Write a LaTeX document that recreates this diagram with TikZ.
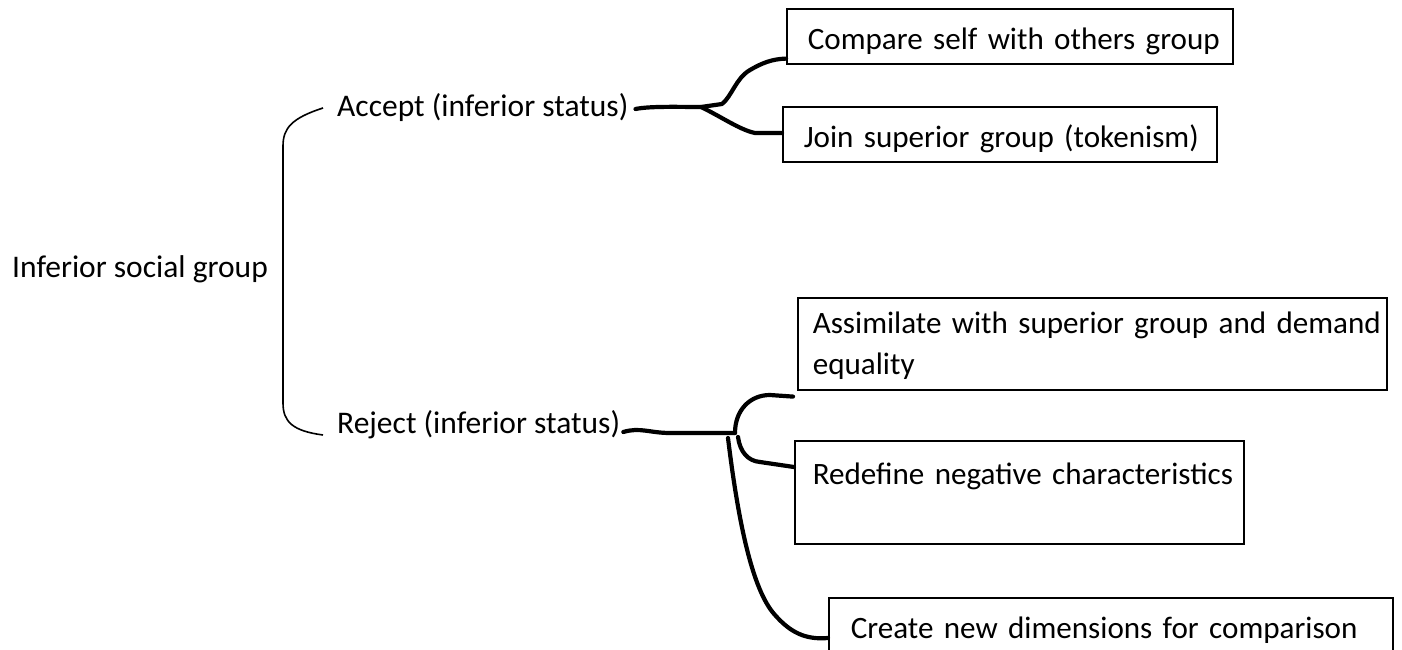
\documentclass[tikz,border=0pt]{standalone}
\usepackage{fontspec}
\setmainfont{Carlito}
\begin{document}
\begin{tikzpicture}[x=1pt,y=-1pt,
  txt/.style={font=\fontsize{31.5}{41}\selectfont},
  boxtxt/.style={font=\fontsize{31.1}{41}\selectfont},
  lbl/.style={txt, inner sep=0pt, anchor=base west},
  box/.style={boxtxt, draw, line width=1.6pt, anchor=north west, align=left, inner ysep=0pt},
  onebox/.style={box, text height=41pt, text depth=14pt},
  brace/.style={line width=1.6pt},
  link/.style={line width=4.2pt, line cap=round, line join=round}]
\useasboundingbox (0,0) rectangle (1402,650);
\clip (0,0) rectangle (1402,650);

% labels of the tree
\node[lbl] (root) at (12,277) {Inferior social group};
\node[lbl] (acc) at (337,117) {Accept (inferior status)};
\node[lbl] (rej) at (337,433) {Reject (inferior status)};

% outcome boxes (lines kept unbroken)
\node[onebox, text width=404pt, inner xsep=21pt] (b1) at (786,8) {\mbox{Compare self with others group}};
\node[onebox, text width=392pt, inner xsep=21pt] (b2) at (782,106) {\mbox{Join superior group (tokenism)}};
\node[box, text width=559pt, inner xsep=15pt, text height=36pt, text depth=56pt] (b3) at (797,297)
  {\mbox{Assimilate with superior group and demand}\\\mbox{equality}};
\node[box, text width=413pt, inner xsep=18pt, text height=44pt, text depth=59pt] (b4) at (794,440)
  {\mbox{Redefine negative characteristics}};
\node[onebox, text width=520pt, inner xsep=22pt] (b5) at (828,597) {\mbox{Create new dimensions for comparison}};

% bracket joining the two reactions
\draw[brace] ([xshift=-14pt,yshift=9pt]acc.base west) .. controls (292,118) and (283,128) .. (283,146)
  -- (283,403) .. controls (283,422) and (293,431) .. ([xshift=-14pt,yshift=-2pt]rej.base west);

% branches from "Accept"
\coordinate (ja) at (701,107);
\draw[link] ([xshift=7pt,yshift=8pt]acc.base east) .. controls (650,106) and (680,107) .. (ja);
\draw[link] (ja) -- (722,104) .. controls (732,96) and (736,78) .. (750,70)
  .. controls (762,63) and (772,59) .. ([yshift=6pt]b1.south west);
\draw[link] (ja) .. controls (720,116) and (740,130) .. (755,133) -- ([yshift=-27pt]b2.north west);

% branches from "Reject"
\coordinate (jr) at (735,433);
\draw[link] ([xshift=3pt,yshift=1pt]rej.base east) .. controls (640,427) and (650,433) .. (670,433) -- (jr);
\draw[link] (jr) .. controls (735,410) and (750,395) .. (770,395) -- ([xshift=-4pt,yshift=-6pt]b3.south west);
\draw[link] (738,437) .. controls (740,452) and (748,461) .. (760,462) -- ([yshift=-27pt]b4.north west);
\draw[link] (728,438) .. controls (738,520) and (752,590) .. (775,615)
  .. controls (790,632) and (805,640) .. ([yshift=-41pt]b5.north west);
\end{tikzpicture}
\end{document}
